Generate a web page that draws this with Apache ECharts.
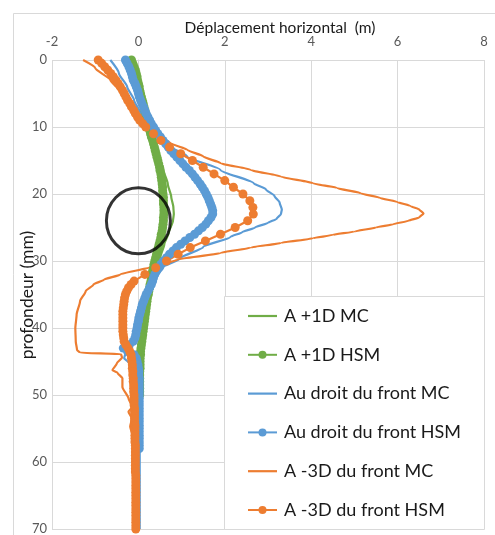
<!DOCTYPE html>
<html>
<head>
<meta charset="utf-8">
<script src="https://cdn.jsdelivr.net/npm/echarts@6/dist/echarts.min.js"></script>
<style>
html,body{margin:0;padding:0;background:#fff;}
#chart{width:495px;height:535px;}
</style>
</head>
<body>
<div id="chart"></div>
<script>
// ---- Data ----
const xTicks = [-2, 0, 2, 4, 6, 8];
const yTicks = [0, 10, 20, 30, 40, 50, 60, 70];
const xTitle = 'Déplacement horizontal  (m)';
const yTitle = 'profondeur (mm)';

const seriesNames = [
  'A +1D MC', 'A +1D HSM',
  'Au droit du front MC', 'Au droit du front HSM',
  'A -3D du front MC', 'A -3D du front HSM'
];

// HSM depths (profondeur, mm), one marker every 0.5
const hsmDepth = [
  0,0.5,1,1.5,2,2.5,3,3.5,4,4.5, 5,5.5,6,6.5,7,7.5,8,8.5,9,9.5,
  10,10.5,11,11.5,12,12.5,13,13.5,14,14.5, 15,15.5,16,16.5,17,17.5,18,18.5,19,19.5,
  20,20.5,21,21.5,22,22.5,23,23.5,24,24.5, 25,25.5,26,26.5,27,27.5,28,28.5,29,29.5,
  30,30.5,31,31.5,32,32.5,33,33.5,34,34.5, 35,35.5,36,36.5,37,37.5,38,38.5,39,39.5,
  40,40.5,41,41.5,42,42.5,43,43.5,44,44.5, 45,45.5,46,46.5,47,47.5,48,48.5,49,49.5,
  50,50.5,51,51.5,52,52.5,53,53.5,54,54.5, 55,55.5,56,56.5,57,57.5,58,58.5,59,59.5,
  60,60.5,61,61.5,62,62.5,63,63.5,64,64.5, 65,65.5,66,66.5,67,67.5,68,68.5,69,69.5,
  70];

// A +1D HSM (depth 0..50)
const greenHSM = [
  -0.16,-0.13,-0.10,-0.07,-0.05,-0.03,-0.02,0.00,0.02,0.03,
  0.05,0.07,0.09,0.11,0.13,0.15,0.17,0.18,0.20,0.22,
  0.24,0.26,0.28,0.30,0.33,0.35,0.37,0.39,0.41,0.43,
  0.45,0.47,0.49,0.50,0.52,0.53,0.54,0.55,0.56,0.56,
  0.57,0.58,0.58,0.58,0.59,0.59,0.59,0.58,0.58,0.57,
  0.56,0.55,0.53,0.52,0.50,0.48,0.46,0.44,0.42,0.40,
  0.38,0.36,0.35,0.33,0.32,0.30,0.29,0.27,0.26,0.24,
  0.23,0.21,0.20,0.19,0.18,0.17,0.16,0.15,0.14,0.13,
  0.12,0.11,0.10,0.09,0.08,0.07,0.06,0.05,0.05,0.04,
  0.04,0.04,0.04,0.03,0.03,0.03,0.03,0.03,0.03,0.03,
  0.03];

// Au droit du front HSM (depth 0..58)
const blueHSM = [
  -0.30,-0.26,-0.22,-0.19,-0.16,-0.14,-0.12,-0.08,-0.05,-0.02,
  0.00,0.02,0.05,0.08,0.12,0.15,0.18,0.22,0.26,0.30,
  0.35,0.40,0.45,0.51,0.57,0.63,0.69,0.75,0.82,0.89,
  0.96,1.03,1.10,1.18,1.25,1.31,1.37,1.43,1.48,1.53,
  1.57,1.61,1.64,1.67,1.70,1.72,1.72,1.68,1.62,1.56,
  1.48,1.39,1.30,1.19,1.08,0.98,0.88,0.80,0.72,0.65,
  0.58,0.52,0.46,0.42,0.38,0.35,0.33,0.30,0.26,0.22,
  0.18,0.15,0.12,0.09,0.07,0.05,0.03,0.01,0.00,-0.02,
  -0.03,-0.05,-0.06,-0.08,-0.12,-0.25,-0.35,-0.25,-0.10,-0.05,
  -0.03,-0.01,0.00,0.01,0.01,0.02,0.02,0.02,0.02,0.02,
  0.02,0.02,0.02,0.02,0.02,0.02,0.02,0.02,0.02,0.02,
  0.02,0.02,0.02,0.02,0.02,0.02,0.02];

// A -3D du front HSM: its own depths (markers sparser around the bulge)
const orangeHSMDepth = [
  0,0.5,1,1.5,2,2.5,3,3.5,4,4.5, 5,5.5,6,6.5,7,7.5,8,8.5,9,9.5,
  10,11,12,13,14,15,16,17,18,19, 20,21,22,23,24,25,26,27,28,29, 30,31,32,33,
  33.5,34,34.5, 35,35.5,36,36.5,37,37.5,38,38.5,39,39.5, 40,40.5,41,41.5,42,42.5,43,43.5,44,44.5,
  45,45.5,46,46.5,47,47.5,48,48.5,49,49.5, 50,50.5,51,51.5,52,52.5,53,53.5,54,54.5,
  55,55.5,56,56.5,57,57.5,58,58.5,59,59.5, 60,60.5,61,61.5,62,62.5,63,63.5,64,64.5,
  65,65.5,66,66.5,67,67.5,68,68.5,69,69.5, 70];
const orangeHSM = [
  -0.93,-0.85,-0.78,-0.71,-0.64,-0.58,-0.52,-0.47,-0.42,-0.37, -0.33,-0.29,-0.25,-0.20,-0.16,-0.11,-0.07,-0.02,0.03,0.10,
  0.17,0.35,0.52,0.72,0.98,1.25,1.50,1.75,2.00,2.20, 2.42,2.58,2.65,2.66,2.53,2.24,1.90,1.55,1.20,0.92, 0.65,0.40,0.15,-0.10,
  -0.17,-0.23,-0.27, -0.30,-0.32,-0.33,-0.34,-0.35,-0.36,-0.36,-0.36,-0.36,-0.36, -0.36,-0.36,-0.35,-0.34,-0.33,-0.29,-0.24,-0.20,-0.17,-0.16,
  -0.15,-0.14,-0.14,-0.13,-0.13,-0.12,-0.12,-0.11,-0.11,-0.11, -0.10,-0.10,-0.10,-0.10,-0.09,-0.09,-0.09,-0.09,-0.09,-0.08,
  -0.08,-0.08,-0.08,-0.08,-0.08,-0.07,-0.07,-0.07,-0.07,-0.07, -0.07,-0.07,-0.07,-0.07,-0.06,-0.06,-0.06,-0.06,-0.06,-0.06,
  -0.06,-0.06,-0.06,-0.06,-0.06,-0.06,-0.06,-0.06,-0.06,-0.06, -0.06];

// A +1D MC
const greenMCDepth = [0,3,6,9,11.5,14,16.4,18.5,20.4,22,23,24,25.8,27.5,29.4,31.3,33,35,38,40,43,46,50];
const greenMCX     = [-0.16,-0.03,0.09,0.20,0.28,0.44,0.58,0.68,0.76,0.81,0.82,0.80,0.70,0.60,0.51,0.35,0.27,0.20,0.14,0.10,0.07,0.05,0.03];

// Au droit du front MC
const blueMCDepth = [0,2,4,6,8,10.4,12.4,14.4,16.4,18.4,19.3,20.3,21.3,22.3,23.0,23.7,24.3,25.0,25.7,26.4,27.9,29.6,30.9,32.8,35,38,41,42.8,43.8,44.5,45.2,45.6,47,55,70];
const blueMCX     = [-0.65,-0.45,-0.26,-0.10,0.05,0.28,0.58,1.13,1.90,2.67,2.95,3.15,3.27,3.32,3.30,3.20,3.00,2.70,2.40,2.13,1.50,0.97,0.58,0.35,0.18,0.02,-0.08,-0.14,-0.30,-0.33,-0.22,-0.05,0.00,0.03,0.03];

// A -3D du front MC
const orangeMCDepth = [0,1.2,3,4.8,6.4,8,9.2,10.2,11,12.4,13.4,14.4,15.4,16.4,17.4,18.4,19.1,19.9,20.6,21.2,21.8,22.3,22.9,23.5,24.0,24.5,25.0,25.6,26.1,26.6,27.3,28.0,28.8,29.8,30.9,32,32.8,33.5,34.5,36,38,40,42,43.3,43.7,43.9,44.4,45.3,46.3,46.7,47.5,48.8,50.5,51.8,52.5,53.5,54.7,56.3,60,70];
const orangeMCX     = [-1.28,-1.00,-0.65,-0.40,-0.26,-0.10,0.05,0.25,0.38,0.74,1.13,1.50,1.90,2.60,3.30,4.04,4.60,5.15,5.60,6.00,6.30,6.50,6.60,6.50,6.25,5.90,5.50,5.00,4.50,4.04,3.30,2.60,1.90,0.90,0.28,-0.42,-0.80,-1.04,-1.22,-1.35,-1.43,-1.46,-1.45,-1.42,-1.35,-0.40,-0.38,-0.50,-0.60,-0.48,-0.37,-0.37,-0.23,-0.14,-0.23,-0.15,-0.19,-0.12,-0.08,-0.06];

// Tunnel (circle) centre
const tunnelX = [0];
const tunnelDepth = [24];

// ---- Build ----
const GREEN = '#70AD47', BLUE = '#5B9BD5', ORANGE = '#ED7D31';
const FONT = 'Lato';
const LINE_ICON = 'path://M0,0 L29,0 L29,2.2 L0,2.2 Z';

function pairs(xs, ds) { return xs.map((x, i) => [x, ds[i]]); }

function mcSeries(name, xs, ds, color) {
  return {
    name, type: 'line', data: pairs(xs, ds),
    showSymbol: false, symbol: 'none', smooth: 0.2, smoothMonotone: 'y',
    lineStyle: { color, width: 2.2 }, itemStyle: { color },
    emphasis: { disabled: true }, silent: true
  };
}
function hsmSeries(name, xs, ds, color) {
  return {
    name, type: 'line', data: pairs(xs, ds),
    symbol: 'circle', symbolSize: 9, showAllSymbol: true,
    lineStyle: { color, width: 2.2 }, itemStyle: { color },
    emphasis: { disabled: true }, silent: true
  };
}

const chart = echarts.init(document.getElementById('chart'), null, { renderer: 'canvas' });
chart.setOption({
  animation: false,
  backgroundColor: '#fff',
  textStyle: { fontFamily: FONT },
  graphic: [
    { type: 'rect', left: 11, top: 11, z: -10, silent: true,
      shape: { width: 520, height: 560 },
      style: { fill: 'none', stroke: '#d9d9d9', lineWidth: 1 } },
    { type: 'rect', left: 224, top: 296, z: 3, silent: true,
      shape: { width: 260, height: 233 },
      style: { fill: '#fff', stroke: '#d9d9d9', lineWidth: 1 } },
    { type: 'text', x: 280, y: 28, z: 5, silent: true,
      style: { text: xTitle, fontFamily: FONT, fontSize: 15.5, fill: '#1a1a1a', align: 'center', verticalAlign: 'middle' } },
    { type: 'text', x: 27, y: 295, rotation: Math.PI / 2, z: 5, silent: true,
      style: { text: yTitle, fontFamily: FONT, fontSize: 17.5, fill: '#1a1a1a', align: 'center', verticalAlign: 'middle' } }
  ],
  grid: { left: 52, top: 60, width: 432, height: 469, containLabel: false, outerBoundsMode: 'none' },
  xAxis: {
    type: 'value', position: 'top', min: xTicks[0], max: xTicks[xTicks.length - 1], interval: 2,
    axisLine: { show: false, onZero: false }, axisTick: { show: false },
    axisLabel: { fontFamily: FONT, fontSize: 13, color: '#595959', margin: 12, showMinLabel: true, showMaxLabel: true },
    splitLine: { show: true, lineStyle: { color: '#d9d9d9', width: 1 } }
  },
  yAxis: {
    type: 'value', inverse: true, min: yTicks[0], max: yTicks[yTicks.length - 1], interval: 10,
    axisLine: { show: true, onZero: true, lineStyle: { color: '#d9d9d9', width: 1 } },
    axisTick: { show: false },
    axisLabel: { fontFamily: FONT, fontSize: 13, color: '#595959', margin: 5, showMinLabel: true, showMaxLabel: true },
    splitLine: { show: true, lineStyle: { color: '#d9d9d9', width: 1 } }
  },
  legend: {
    orient: 'vertical', left: 247, top: 307, padding: 0,
    itemWidth: 29, itemHeight: 10, itemGap: 20.8,
    data: [
      { name: seriesNames[0], icon: LINE_ICON },
      { name: seriesNames[1] },
      { name: seriesNames[2], icon: LINE_ICON },
      { name: seriesNames[3] },
      { name: seriesNames[4], icon: LINE_ICON },
      { name: seriesNames[5] }
    ],
    selectedMode: false,
    textStyle: { fontFamily: FONT, fontSize: 18, color: '#1a1a1a', lineHeight: 18, padding: [0, 0, 0, 2] },
    z: 5
  },
  series: [
    mcSeries(seriesNames[0], greenMCX, greenMCDepth, GREEN),
    hsmSeries(seriesNames[1], greenHSM, hsmDepth, GREEN),
    mcSeries(seriesNames[2], blueMCX, blueMCDepth, BLUE),
    hsmSeries(seriesNames[3], blueHSM, hsmDepth, BLUE),
    mcSeries(seriesNames[4], orangeMCX, orangeMCDepth, ORANGE),
    hsmSeries(seriesNames[5], orangeHSM, orangeHSMDepth, ORANGE),
    {
      name: 'tunnel', type: 'scatter', data: pairs(tunnelX, tunnelDepth),
      symbol: 'circle', symbolSize: [64, 66], z: 10, silent: true,
      itemStyle: { color: 'rgba(0,0,0,0)', borderColor: '#000', borderWidth: 3 }
    }
  ]
});
</script>
</body>
</html>
